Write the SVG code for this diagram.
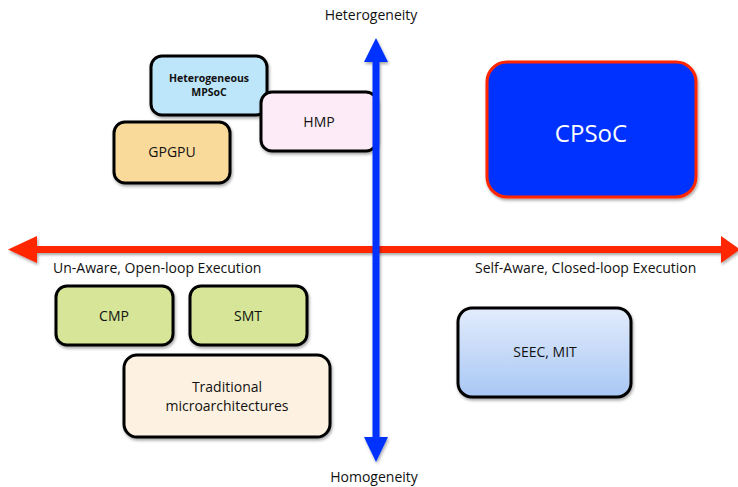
<svg xmlns="http://www.w3.org/2000/svg" width="738" height="487" viewBox="0 0 738 487">
<style>
.box{stroke:#000;stroke-width:3;filter:url(#sh)}
.t{font-family:"Open Sans","Liberation Sans",sans-serif;font-size:14px;fill:#111;text-anchor:middle}
.lbl{font-family:"Open Sans","Liberation Sans",sans-serif;font-size:14px;fill:#111}
</style>
<defs>
<filter id="sh" x="-10%" y="-10%" width="125%" height="130%">
<feDropShadow dx="1" dy="2" stdDeviation="1.5" flood-color="#000" flood-opacity="0.35"/>
</filter>
<linearGradient id="g1" x1="0" y1="0" x2="0" y2="1">
<stop offset="0" stop-color="#E3ECFC"/>
<stop offset="1" stop-color="#A8C7F4"/>
</linearGradient>
</defs>
<text class="t" x="371" y="20">Heterogeneity</text>
<text class="t" x="374" y="482">Homogeneity</text>
<g id="mpsoc"><rect class="box" x="151" y="56" width="116" height="59" rx="11" fill="#BEE6FB"/>
<text class="t" x="209" y="82" style="font-size:10.5px;font-weight:bold">Heterogeneous</text>
<text class="t" x="209" y="96" style="font-size:10.5px;font-weight:bold">MPSoC</text></g>
<g id="gpgpu"><rect class="box" x="114" y="122" width="116" height="61" rx="11" fill="#F9DA9B"/>
<text class="t" x="172" y="157">GPGPU</text></g>
<g id="hmp"><rect class="box" x="261" y="92" width="116" height="59" rx="11" fill="#FDEBF7"/>
<text class="t" x="319" y="127">HMP</text></g>
<g id="cpsoc"><rect x="487" y="62" width="209" height="135" rx="20" fill="#0433FF" stroke="#FF2600" stroke-width="3" filter="url(#sh)"/>
<text class="t" x="591" y="142" style="font-size:24px;fill:#fff">CPSoC</text></g>
<g id="cmp"><rect class="box" x="56" y="286" width="117" height="59" rx="11" fill="#D6E597"/>
<text class="t" x="114" y="321">CMP</text></g>
<g id="smt"><rect class="box" x="190" y="286" width="117" height="59" rx="11" fill="#D6E597"/>
<text class="t" x="248" y="321">SMT</text></g>
<g id="trad"><rect class="box" x="124" y="355" width="206" height="82" rx="13" fill="#FDF2E1"/>
<text class="t" x="227" y="392">Traditional</text>
<text class="t" x="227" y="411">microarchitectures</text></g>
<g id="seec"><rect class="box" x="458" y="308" width="173" height="89" rx="14" fill="url(#g1)"/>
<text class="t" x="545" y="357">SEEC, MIT</text></g>
<g id="connectors">
<g id="hAxis" filter="url(#sh)">
<rect x="34" y="246" width="690" height="7" fill="#FF2600"/>
<polygon points="8,249.5 37,236 37,263" fill="#FF2600"/>
<polygon points="740,249.5 721,236 721,263" fill="#FF2600"/>
</g>
<g id="vAxis" filter="url(#sh)">
<rect x="372.5" y="60" width="7" height="380" fill="#0433FF"/>
<polygon points="376,38 364,62 388,62" fill="#0433FF"/>
<polygon points="376,462 364,437 388,437" fill="#0433FF"/>
</g>
</g>
<text class="lbl" x="53" y="273">Un-Aware, Open-loop Execution</text>
<text class="lbl" x="475" y="273">Self-Aware, Closed-loop Execution</text>
</svg>
